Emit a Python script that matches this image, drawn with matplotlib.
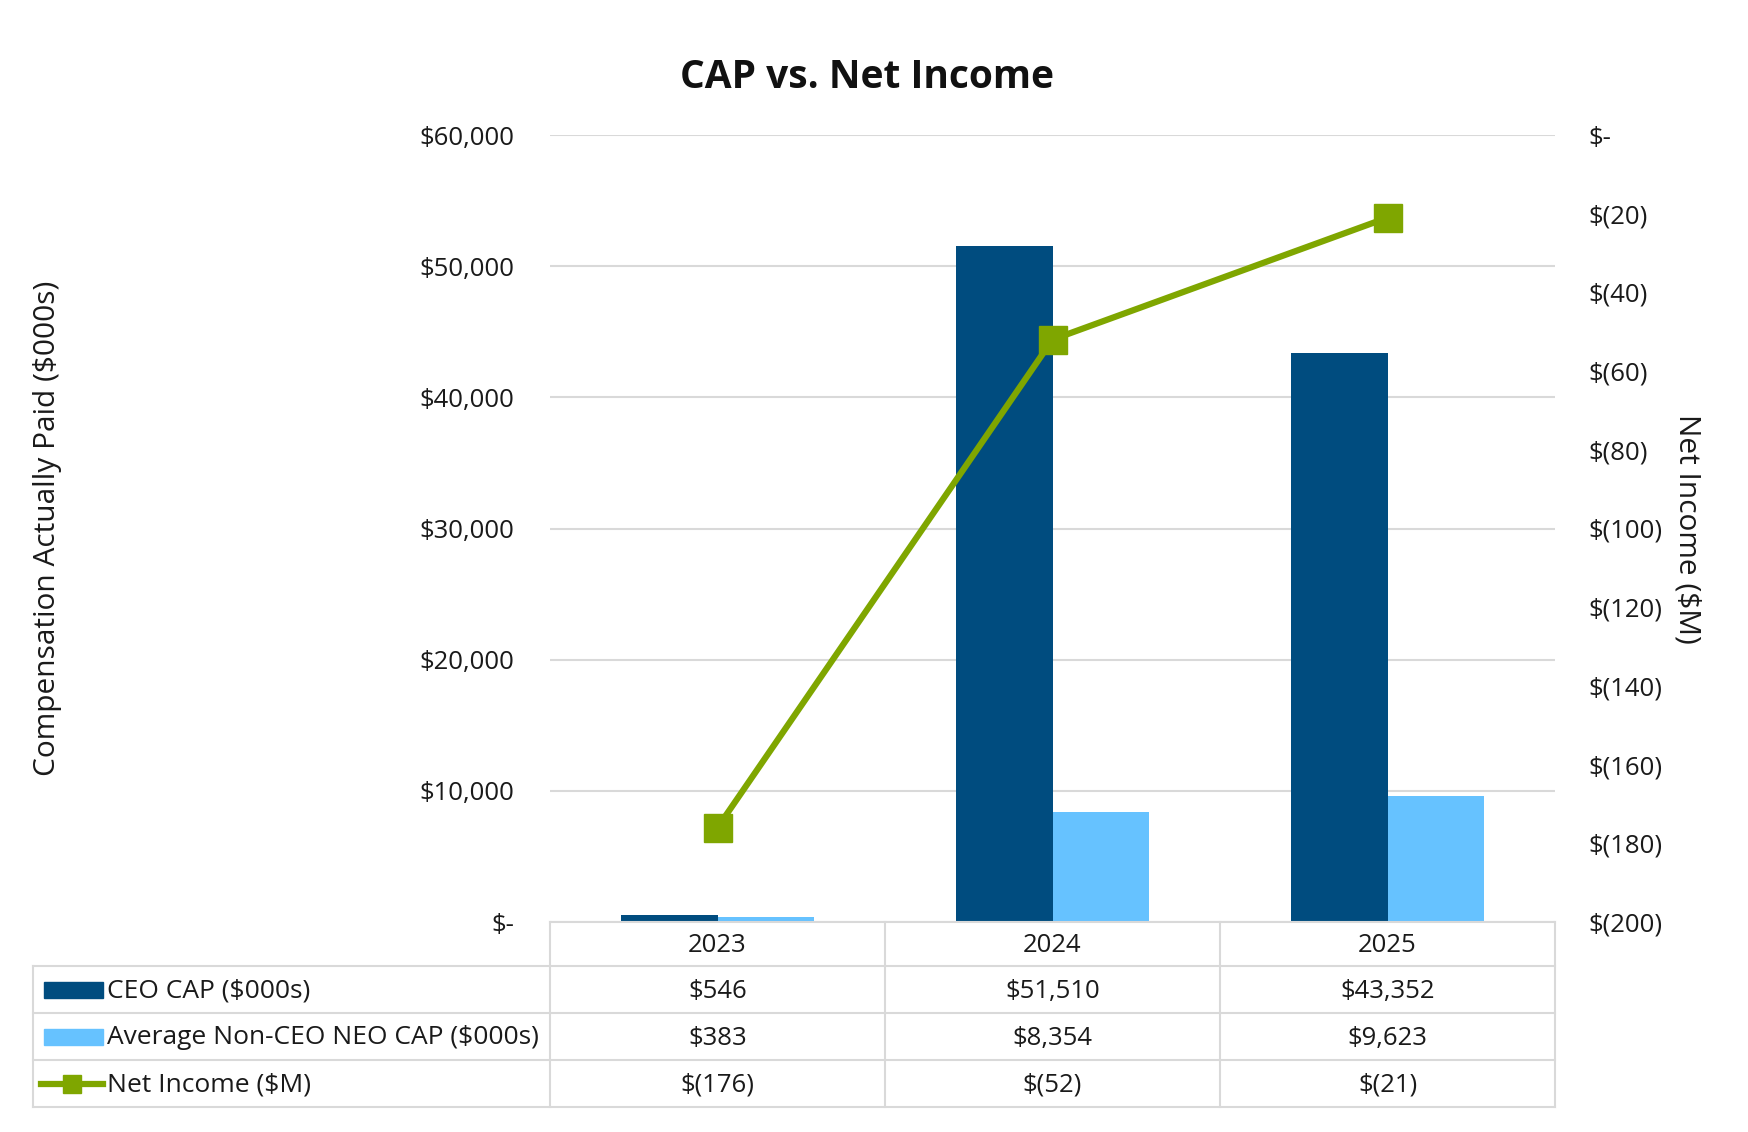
import matplotlib.pyplot as plt
import matplotlib.ticker as mticker
from matplotlib.lines import Line2D
from matplotlib.patches import Rectangle
import numpy as np

plt.rcParams['font.family'] = ['Open Sans', 'DejaVu Sans']

years = ["2023", "2024", "2025"]
ceo_cap = [546, 51510, 43352]
neo_cap = [383, 8354, 9623]
net_income = [-176, -52, -21]
series_labels = ["CEO CAP ($000s)", "Average Non-CEO NEO CAP ($000s)", "Net Income ($M)"]

dark_blue = "#004C7F"
light_blue = "#66C2FF"
green = "#7FA600"
grid_gray = "#D9D9D9"
txt = "#1a1a1a"

W, H = 1748, 1132


def fx(x):
    return x / W


def fy(y):
    return 1 - y / H


def money(v):
    if v == 0:
        return "$-"
    if v < 0:
        return f"$({abs(v):,.0f})"
    return f"${v:,.0f}"


fig = plt.figure(figsize=(W / 100, H / 100), dpi=100)
ax = fig.add_axes([fx(550), fy(922), fx(1555) - fx(550), fy(135) - fy(922)])
ax2 = ax.twinx()

x = np.arange(len(years))
bw = 0.287
ax.bar(x - bw / 2, ceo_cap, width=bw, color=dark_blue, zorder=2)
ax.bar(x + bw / 2, neo_cap, width=bw, color=light_blue, zorder=2)

ax.set_xlim(-0.5, 2.5)
ax.set_ylim(0, 60000)
ax.yaxis.set_major_locator(mticker.MultipleLocator(10000))
ax.yaxis.set_major_formatter(mticker.FuncFormatter(lambda v, p: money(v)))
ax.grid(axis='y', color=grid_gray, linewidth=1.5, zorder=0)
ax.set_axisbelow(True)
ax.set_xticks([])
ax.tick_params(axis='y', length=0, pad=26, labelsize=18.5, labelcolor=txt)
for s in ax.spines.values():
    s.set_visible(False)

ax2.plot(x, net_income, color=green, linewidth=4.5, marker='s', markersize=20, zorder=3)
ax2.set_ylim(-200, 0)
ax2.yaxis.set_major_locator(mticker.MultipleLocator(20))
ax2.yaxis.set_major_formatter(mticker.FuncFormatter(lambda v, p: money(v)))
ax2.tick_params(axis='y', length=0, pad=24, labelsize=18.5, labelcolor=txt)
for s in ax2.spines.values():
    s.set_visible(False)

ax.set_ylabel("Compensation Actually Paid ($000s)", fontsize=21.5, color=txt)
ax.yaxis.set_label_coords(-0.486, 0.5)
ax2.set_ylabel("Net Income ($M)", fontsize=21.5, rotation=270, color=txt)
ax2.yaxis.set_label_coords(1.146, 0.5)

fig.text(fx(867), fy(77), "CAP vs. Net Income", fontsize=28, fontweight='bold',
         ha='center', va='center', color="#111111")

# data table under the plot -------------------------------------------------------------
line_kw = dict(color=grid_gray, linewidth=1.5)
col_edges = [fx(550), fx(885), fx(1220), fx(1555)]
row_edges = [922, 966, 1013, 1060, 1107]
tab_left = fx(33)

fig.add_artist(Line2D([col_edges[0], col_edges[-1]], [fy(922), fy(922)], **line_kw))
for y in row_edges[1:]:
    fig.add_artist(Line2D([tab_left, col_edges[-1]], [fy(y), fy(y)], **line_kw))
for xe in col_edges:
    fig.add_artist(Line2D([xe, xe], [fy(922), fy(1107)], **line_kw))
fig.add_artist(Line2D([tab_left, tab_left], [fy(966), fy(1107)], **line_kw))

centers = [(col_edges[i] + col_edges[i + 1]) / 2 for i in range(3)]
row_mid = [(row_edges[i] + row_edges[i + 1]) / 2 for i in range(4)]
tkw = dict(fontsize=18.5, ha='center', va='center', color=txt)
for i, yr in enumerate(years):
    fig.text(centers[i], fy(row_mid[0] + 2), yr, **tkw)
for r, vals in enumerate([ceo_cap, neo_cap, net_income]):
    for i, v in enumerate(vals):
        fig.text(centers[i], fy(row_mid[r + 1] + 2), money(v), **tkw)
    fig.text(fx(107), fy(row_mid[r + 1] + 1), series_labels[r], fontsize=19,
             ha='left', va='center', color=txt)

# legend swatches
fig.add_artist(Rectangle((fx(44), fy(row_mid[1] + 8)), fx(103) - fx(44), fy(row_mid[1] - 8) - fy(row_mid[1] + 8),
                         color=dark_blue))
fig.add_artist(Rectangle((fx(44), fy(row_mid[2] + 8)), fx(103) - fx(44), fy(row_mid[2] - 8) - fy(row_mid[2] + 8),
                         color=light_blue))
fig.add_artist(Line2D([fx(41), fx(103)], [fy(row_mid[3]), fy(row_mid[3])], color=green, linewidth=4.5))
fig.add_artist(Line2D([fx(72)], [fy(row_mid[3])], color=green, marker='s', markersize=13, linewidth=0))

fig.savefig("out.png", dpi=100)
